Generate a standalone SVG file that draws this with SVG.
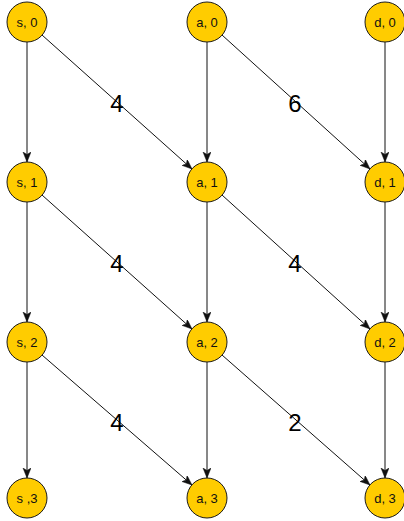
<svg xmlns="http://www.w3.org/2000/svg" width="404" height="521" viewBox="0 0 404 521">
  <style>
    .node circle { fill: #FFCC00; stroke: #1a1a1a; stroke-width: 1; }
    .node text { font-family: "Liberation Sans", Arial, sans-serif; font-size: 13px; fill: #111111; text-anchor: middle; dominant-baseline: central; }
    .edge { stroke: #111111; stroke-width: 1; fill: none; marker-end: url(#arrow); }
    .weight { font-family: "Liberation Sans", Arial, sans-serif; font-size: 24px; fill: #000; text-anchor: middle; dominant-baseline: central; }
  </style>
  <defs>
    <marker id="arrow" markerUnits="userSpaceOnUse" markerWidth="11" markerHeight="9" refX="10" refY="4" orient="auto">
      <path d="M0,0 L10,4 L0,8 L2.5,4 Z" fill="#111111" stroke="#111111" stroke-width="0.5"/>
    </marker>
  </defs>
  <rect width="404" height="521" fill="#ffffff"/>

  <!-- connectors -->
  <g id="edges">
    <!-- vertical -->
    <line class="edge" x1="27" y1="42" x2="27" y2="162"/>
    <line class="edge" x1="207" y1="42" x2="207" y2="162"/>
    <line class="edge" x1="385" y1="42" x2="385" y2="162"/>
    <line class="edge" x1="27" y1="202" x2="27" y2="322"/>
    <line class="edge" x1="207" y1="202" x2="207" y2="322"/>
    <line class="edge" x1="385" y1="202" x2="385" y2="322"/>
    <line class="edge" x1="27" y1="362" x2="27" y2="478"/>
    <line class="edge" x1="207" y1="362" x2="207" y2="478"/>
    <line class="edge" x1="385" y1="362" x2="385" y2="478"/>
    <!-- diagonal -->
    <line class="edge" x1="42" y1="35" x2="192" y2="169"/>
    <line class="edge" x1="222" y1="35" x2="370" y2="169"/>
    <line class="edge" x1="42" y1="195" x2="192" y2="329"/>
    <line class="edge" x1="222" y1="195" x2="370" y2="329"/>
    <line class="edge" x1="42" y1="355" x2="192" y2="485"/>
    <line class="edge" x1="222" y1="355" x2="370" y2="485"/>
    <!-- weights -->
    <text class="weight" x="117" y="103">4</text>
    <text class="weight" x="295" y="103">6</text>
    <text class="weight" x="117" y="263">4</text>
    <text class="weight" x="295" y="263">4</text>
    <text class="weight" x="117" y="422">4</text>
    <text class="weight" x="295" y="422">2</text>
  </g>

  <!-- nodes -->
  <g id="s0" class="node"><circle cx="27" cy="22" r="20"/><text x="27" y="22">s, 0</text></g>
  <g id="a0" class="node"><circle cx="207" cy="22" r="20"/><text x="207" y="22">a, 0</text></g>
  <g id="d0" class="node"><circle cx="385" cy="22" r="20"/><text x="385" y="22">d, 0</text></g>
  <g id="s1" class="node"><circle cx="27" cy="182" r="20"/><text x="27" y="182">s, 1</text></g>
  <g id="a1" class="node"><circle cx="207" cy="182" r="20"/><text x="207" y="182">a, 1</text></g>
  <g id="d1" class="node"><circle cx="385" cy="182" r="20"/><text x="385" y="182">d, 1</text></g>
  <g id="s2" class="node"><circle cx="27" cy="342" r="20"/><text x="27" y="342">s, 2</text></g>
  <g id="a2" class="node"><circle cx="207" cy="342" r="20"/><text x="207" y="342">a, 2</text></g>
  <g id="d2" class="node"><circle cx="385" cy="342" r="20"/><text x="385" y="342">d, 2</text></g>
  <g id="s3" class="node"><circle cx="27" cy="498" r="20"/><text x="27" y="498">s ,3</text></g>
  <g id="a3" class="node"><circle cx="207" cy="498" r="20"/><text x="207" y="498">a, 3</text></g>
  <g id="d3" class="node"><circle cx="385" cy="498" r="20"/><text x="385" y="498">d, 3</text></g>
</svg>
